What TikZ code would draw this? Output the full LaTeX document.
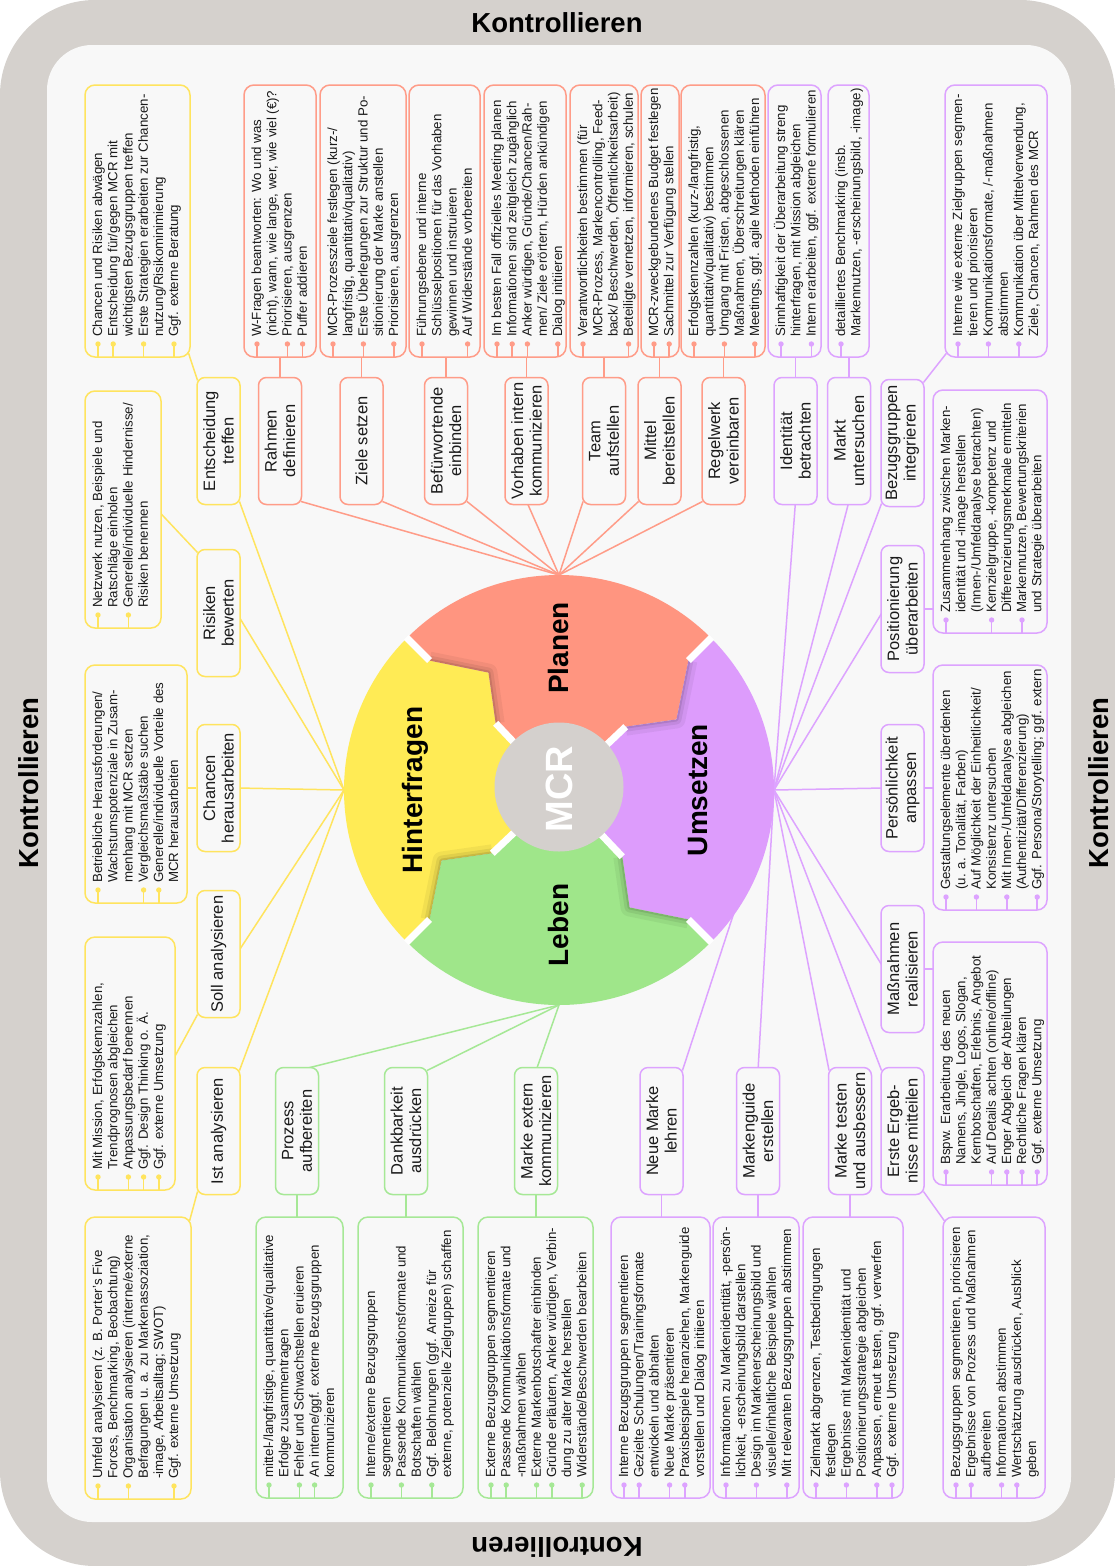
\documentclass[tikz,border=0pt]{standalone}
\usepackage{fontspec}
\setmainfont{Liberation Sans}
\usetikzlibrary{calc}
\pgfdeclarelayer{back}
\pgfdeclarelayer{lines}
\pgfsetlayers{back,lines,main}
\definecolor{frameC}{HTML}{D5D1CD}
\definecolor{panelC}{HTML}{F8F8F8}
\definecolor{yC}{HTML}{FFE45E}
\definecolor{yF}{HTML}{FFEB55}
\definecolor{rC}{HTML}{FF9C88}
\definecolor{rF}{HTML}{FF9580}
\definecolor{pC}{HTML}{DDA3FF}
\definecolor{pF}{HTML}{DD9CFC}
\definecolor{gC}{HTML}{A6E896}
\definecolor{gF}{HTML}{9FE68A}
\definecolor{mcrC}{HTML}{D4D0CD}
\definecolor{txt}{HTML}{1A1A1A}
\tikzset{
  sub/.style={rotate=90, draw, rounded corners=8, minimum width=127, minimum height=43, align=center,
    font=\fontsize{16.5}{18.5}\selectfont, fill=panelC, line width=1.5, inner sep=1, text=txt},
  dframe/.style={draw, rounded corners=10, line width=1.5, inner sep=0, outer sep=0, fill=panelC},
  dtext/.style={rotate=90, inner sep=0, align=left, font=\fontsize{13.3}{15.2}\selectfont, text=txt},
  conn/.style={line width=1.5},
  seglabel/.style={rotate=90, font=\fontsize{28}{30}\selectfont\bfseries, text=black},
  kontr/.style={font=\fontsize{27.5}{30}\selectfont\bfseries, text=black},
  shd/.style={black, line join=round},
}
\newcommand{\dbox}[8]{%
  \node[dframe, draw=#2, minimum width={#5-#3}, minimum height={#6-#4}] (#1) at ({(#3+#5)/2},{(#4+#6)/2}) {};
  \foreach \k in {#7}{%
    \draw[#2, line width=1.5] ({#3+13+(\k-1)*15.2},{#6-13}) -- ({#3+13+(\k-1)*15.2},{#6});
    \fill[#2] ({#3+13+(\k-1)*15.2},{#6-13}) circle[radius=2.7];
  }
  \node[dtext, anchor=north west] (#1t) at ({#3+4.5},{#6-20}) {\rule{0pt}{12.5pt}#8};
}
\newcommand{\hubline}[4]{\draw[conn,#1] (#2) -- ($(#3.#4)!4pt!(#3.center)$);}
\newcommand{\conline}[5]{\draw[conn,#1] ($(#2.#3)!4pt!(#2.center)$) -- ($(#4.#5)!4pt!(#4.center)$);}
\newcommand{\segpath}[2]{(#1:215) arc[start angle=#1, end angle=#2, radius=215] -- (#2:183) -- ({#2-14}:137) -- ({#2-1.5}:92) -- ({#2-1.5}:58) arc[start angle={#2-1.5}, end angle={#1-1.5}, radius=58] -- ({#1-1.5}:92) -- ({#1-14}:137) -- (#1:183) -- cycle}
\begin{document}
\begin{tikzpicture}[x=1pt, y=-1pt]
\useasboundingbox (0,0) rectangle (1115,1566);
\begin{pgfonlayer}{back}
\fill[white] (0,0) rectangle (1115,1566);
\fill[frameC, rounded corners=95] (0,0) rectangle (1115,1566);
\fill[panelC, rounded corners=45] (47,45) rectangle (1071,1522);
\end{pgfonlayer}
\node[kontr] (k1) at (557,23) {Kontrollieren};
\node[kontr, rotate=90] (k2) at (29,783) {Kontrollieren};
\node[kontr, rotate=90] (k3) at (1099,783) {Kontrollieren};
\node[kontr, rotate=180] (k4) at (557,1547) {Kontrollieren};
% ring
\begin{scope}[shift={(559,790)}, yscale=-1]
\fill[yF] \segpath{225}{135};
\fill[rF] \segpath{135}{45};
\fill[pF] \segpath{45}{-45};
\fill[gF] \segpath{-45}{-135};
\foreach \t in {135,45,-45,-135}{
  \begin{scope}
    \clip \segpath{\t}{\t-90};
    \draw[shd, opacity=0.05, line width=18] (\t:183) -- ({\t-14}:137) -- ({\t-1.5}:92);
    \draw[shd, opacity=0.07, line width=10] (\t:183) -- ({\t-14}:137) -- ({\t-1.5}:92);
    \draw[shd, opacity=0.10, line width=4] (\t:183) -- ({\t-14}:137) -- ({\t-1.5}:92);
  \end{scope}
  \draw[white, line width=7] (\t:216) -- (\t:183);
  \draw[white, line width=7] ({\t-1.5}:92) -- ({\t-1.5}:55);
}
\fill[mcrC] (0,3) circle[radius=64.5];
\end{scope}
\coordinate (hubY) at (344,790);
\coordinate (hubR) at (559,575);
\coordinate (hubP) at (774,790);
\coordinate (hubG) at (559,1005);
\node[seglabel] (lh) at (415,790) {Hinterfragen};
\node[seglabel] (lp) at (558,648) {Planen};
\node[seglabel] (lu) at (698,790) {Umsetzen};
\node[seglabel] (ll) at (558,925) {Leben};
\node[rotate=90, font=\fontsize{38}{40}\selectfont\bfseries, text=white] (mcr) at (559,789) {MCR};
% sub nodes
\node[sub, draw=yC] (ent) at (218.5,441) {Entscheidung\\treffen};
\node[sub, draw=yC] (ris) at (218.5,613) {Risiken\\bewerten};
\node[sub, draw=yC] (cha) at (218.5,788) {Chancen\\herausarbeiten};
\node[sub, draw=yC] (sol) at (218.5,954) {Soll analysieren};
\node[sub, draw=yC] (ist) at (218.5,1131) {Ist analysieren};
\node[sub, draw=rC] (rah) at (280,441) {Rahmen\\definieren};
\node[sub, draw=rC] (zie) at (361.5,441) {Ziele setzen};
\node[sub, draw=rC] (bef) at (446,441) {Befürwortende\\einbinden};
\node[sub, draw=rC] (vor) at (526.5,441) {Vorhaben intern\\kommunizieren};
\node[sub, draw=rC] (tea) at (604,441) {Team\\aufstellen};
\node[sub, draw=rC] (mit) at (659.5,441) {Mittel\\bereitstellen};
\node[sub, draw=rC] (reg) at (723.5,441) {Regelwerk\\vereinbaren};
\node[sub, draw=pC] (ide) at (795.5,441) {Identität\\betrachten};
\node[sub, draw=pC] (mar) at (849,441) {Markt\\untersuchen};
\node[sub, draw=pC] (bez) at (902.5,443) {Bezugsgruppen\\integrieren};
\node[sub, draw=pC] (pos) at (902.5,609) {Positionierung\\überarbeiten};
\node[sub, draw=pC] (per) at (902.5,788) {Persönlichkeit\\anpassen};
\node[sub, draw=pC] (mas) at (902.5,969) {Maßnahmen\\realisieren};
\node[sub, draw=pC] (ers) at (902.5,1131) {Erste Ergeb-\\nisse mitteilen};
\node[sub, draw=pC] (tes) at (850,1131) {Marke testen\\und ausbessern};
\node[sub, draw=pC] (mgu) at (758,1131) {Markenguide\\erstellen};
\node[sub, draw=pC] (neu) at (661.5,1131) {Neue Marke\\lehren};
\node[sub, draw=gC] (pro) at (297,1131) {Prozess\\aufbereiten};
\node[sub, draw=gC] (dan) at (406,1131) {Dankbarkeit\\ausdrücken};
\node[sub, draw=gC] (mex) at (536,1131) {Marke extern\\kommunizieren};
% detail boxes
\dbox{dY1}{yC}{85}{85}{190}{357}{1,2,4,6}{Chancen und Risiken abwägen\\Entscheidung für/gegen MCR mit\\wichtigsten Bezugsgruppen treffen\\Erste Strategien erarbeiten zur Chancen-\\nutzung/Risikominimierung\\Ggf. externe Beratung}
\dbox{dY2}{yC}{85}{391}{161}{628}{1,3}{Netzwerk nutzen, Beispiele und\\Ratschläge einholen\\Generelle/individuelle Hindernisse/\\Risiken benennen}
\dbox{dY3}{yC}{85}{665}{187}{903}{1,4,5}{Betriebliche Herausforderungen/\\Wachstumspotenziale in Zusam-\\menhang mit MCR setzen\\Vergleichsmaßstäbe suchen\\Generelle/individuelle Vorteile des\\MCR herausarbeiten}
\dbox{dY4}{yC}{85}{937}{175}{1190}{1,3,4,5}{Mit Mission, Erfolgskennzahlen,\\Trendprognosen abgleichen\\Anpassungsbedarf benennen\\Ggf. Design Thinking o. Ä.\\Ggf. externe Umsetzung}
\dbox{dY5}{yC}{85}{1217}{191}{1499}{1,3,6}{Umfeld analysieren (z. B. Porter’s Five\\Forces, Benchmarking, Beobachtung)\\Organisation analysieren (interne/externe\\Befragungen u. a. zu Markenassoziation,\\-image, Arbeitsalltag; SWOT)\\Ggf. externe Umsetzung}
\dbox{dR1}{rC}{244}{85}{316}{357}{1,3,4}{W-Fragen beantworten: Wo und was\\(nicht), wann, wie lange, wer, wie viel (€)?\\Priorisieren, ausgrenzen\\Puffer addieren}
\dbox{dR2}{rC}{320}{85}{406}{357}{1,3,5}{MCR-Prozessziele festlegen (kurz-/\\langfristig, quantitativ/qualitativ)\\Erste Überlegungen zur Struktur und Po-\\sitionierung der Marke anstellen\\Priorisieren, ausgrenzen}
\dbox{dR3}{rC}{409}{85}{480}{357}{1,4}{Führungsebene und interne\\Schlüsselpositionen für das Vorhaben\\gewinnen und instruieren\\Auf Widerstände vorbereiten}
\dbox{dR4}{rC}{484}{85}{566}{357}{1,2,3,5}{Im besten Fall offizielles Meeting planen\\Informationen sind zeitgleich zugänglich\\Anker würdigen, Gründe/Chancen/Rah-\\men/ Ziele erörtern, Hürden ankündigen\\Dialog initiieren}
\dbox{dR5}{rC}{570}{85}{638}{357}{1,4}{Verantwortlichkeiten bestimmen (für\\MCR-Prozess, Markencontrolling, Feed-\\back/ Beschwerden, Öffentlichkeitsarbeit)\\Beteiligte vernetzen, informieren, schulen}
\dbox{dR6}{rC}{641}{85}{679}{357}{1,2}{MCR-zweckgebundenes Budget festlegen\\Sachmittel zur Verfügung stellen}
\dbox{dR7}{rC}{681}{85}{765}{357}{1,3,5}{Erfolgskennzahlen (kurz-/langfristig,\\quantitativ/qualitativ) bestimmen\\Umgang mit Fristen, abgeschlossenen\\Maßnahmen, Überschreitungen klären\\Meetings, ggf. agile Methoden einführen}
\dbox{dP1}{pC}{768}{85}{821}{357}{1,3}{Sinnhaftigkeit der Überarbeitung streng\\hinterfragen, mit Mission abgleichen\\Intern erarbeiten, ggf. externe formulieren}
\dbox{dP2}{pC}{828}{85}{869}{357}{1}{detailliertes Benchmarking (insb.\\Markennutzen, -erscheinungsbild, -image)}
\dbox{dP3}{pC}{945}{85}{1047}{357}{1,3,5}{Interne wie externe Zielgruppen segmen-\\tieren und priorisieren\\Kommunikationsformate, /-maßnahmen\\abstimmen\\Kommunikation über Mittelverwendung,\\Ziele, Chancen, Rahmen des MCR}
\dbox{dP4}{pC}{933}{390}{1047}{633}{1,4,6}{Zusammenhang zwischen Marken-\\identität und -image herstellen\\(Innen-/Umfeldanalyse betrachten)\\Kernzielgruppe, -kompetenz und\\Differenzierungsmerkmale ermitteln\\Markennutzen, Bewertungskriterien\\und Strategie überarbeiten}
\dbox{dP5}{pC}{933}{665}{1047}{910}{1,3,5,7}{Gestaltungselemente überdenken\\(u. a. Tonalität, Farben)\\Auf Möglichkeit der Einheitlichkeit/\\Konsistenz untersuchen\\Mit Innen-/Umfeldanalyse abgleichen\\(Authentizität/Differenzierung)\\Ggf. Persona/Storytelling; ggf. extern}
\dbox{dP6}{pC}{933}{942}{1047}{1185}{1,4,5,6,7}{Bspw. Erarbeitung des neuen\\Namens, Jingle, Logos, Slogan,\\Kernbotschaften, Erlebnis, Angebot\\Auf Details achten (online/offline)\\Enger Abgleich der Abteilungen\\Rechtliche Fragen klären\\Ggf. externe Umsetzung}
\dbox{dP7}{pC}{943}{1217}{1045}{1498}{1,2,4,5}{Bezugsgruppen segmentieren, priorisieren\\Ergebnisse von Prozess und Maßnahmen\\aufbereiten\\Informationen abstimmen\\Wertschätzung ausdrücken, Ausblick\\geben}
\dbox{dP8}{pC}{611}{1217}{710}{1498}{1,2,4,5}{Interne Bezugsgruppen segmentieren\\Gezielte Schulungen/Trainingsformate\\entwickeln und abhalten\\Neue Marke präsentieren\\Praxisbeispiele heranziehen, Markenguide\\vorstellen und Dialog initiieren}
\dbox{dP9}{pC}{713}{1217}{799}{1498}{1,3,5}{Informationen zu Markenidentität, -persön-\\lichkeit, -erscheinungsbild darstellen\\Design im Markenerscheinungsbild und\\visuelle/inhaltliche Beispiele wählen\\Mit relevanten Bezugsgruppen abstimmen}
\dbox{dP10}{pC}{803}{1217}{903}{1498}{1,3,5,6}{Zielmarkt abgrenzen, Testbedingungen\\festlegen\\Ergebnisse mit Markenidentität und\\Positionierungsstrategie abgleichen\\Anpassen, erneut testen, ggf. verwerfen\\Ggf. externe Umsetzung}
\dbox{dG1}{gC}{256}{1217}{343}{1498}{1,3,4}{mittel-/langfristige, quantitative/qualitative\\Erfolge zusammentragen\\Fehler und Schwachstellen eruieren\\An interne/ggf. externe Bezugsgruppen\\kommunizieren}
\dbox{dG2}{gC}{358}{1217}{463}{1498}{1,3,5}{Interne/externe Bezugsgruppen\\segmentieren\\Passende Kommunikationsformate und\\Botschaften wählen\\Ggf. Belohnungen (ggf. Anreize für\\externe, potenzielle Zielgruppen) schaffen}
\dbox{dG3}{gC}{478}{1217}{593}{1498}{1,2,4,5,7}{Externe Bezugsgruppen segmentieren\\Passende Kommunikationsformate und\\-maßnahmen wählen\\Externe Markenbotschafter einbinden\\Gründe erläutern, Anker würdigen, Verbin-\\dung zu alter Marke herstellen\\Widerstände/Beschwerden bearbeiten}
% connectors
\begin{pgfonlayer}{lines}
\hubline{yC}{hubY}{ent}{south west}
\hubline{yC}{hubY}{ris}{south}
\hubline{yC}{hubY}{cha}{south}
\hubline{yC}{hubY}{sol}{south}
\hubline{yC}{hubY}{ist}{south east}
\hubline{rC}{hubR}{rah}{south west}
\hubline{rC}{hubR}{zie}{south west}
\hubline{rC}{hubR}{bef}{south west}
\hubline{rC}{hubR}{vor}{west}
\hubline{rC}{hubR}{tea}{north west}
\hubline{rC}{hubR}{mit}{north west}
\hubline{rC}{hubR}{reg}{north west}
\hubline{pC}{hubP}{ide}{west}
\hubline{pC}{hubP}{mar}{west}
\hubline{pC}{hubP}{bez}{north west}
\hubline{pC}{hubP}{pos}{north}
\hubline{pC}{hubP}{per}{north}
\hubline{pC}{hubP}{mas}{north}
\hubline{pC}{hubP}{ers}{north east}
\hubline{pC}{hubP}{tes}{north east}
\hubline{pC}{hubP}{mgu}{east}
\hubline{pC}{hubP}{neu}{south east}
\hubline{gC}{hubG}{pro}{east}
\hubline{gC}{hubG}{dan}{south east}
\hubline{gC}{hubG}{mex}{east}
\conline{yC}{dY1}{south east}{ent}{north east}
\conline{yC}{dY2}{east}{ris}{north east}
\draw[conn,yC] (cha.north) -- (cha.north -| dY3.east);
\conline{yC}{sol}{north west}{dY4}{east}
\conline{yC}{dY5}{north east}{ist}{north west}
\draw[conn,rC] (rah.east) -- (rah.east |- dR1.south);
\draw[conn,rC] (zie.east) -- (zie.east |- dR2.south);
\draw[conn,rC] (bef.east) -- (bef.east |- dR3.south);
\draw[conn,rC] (vor.east) -- (vor.east |- dR4.south);
\draw[conn,rC] (tea.east) -- (tea.east |- dR5.south);
\draw[conn,rC] (mit.east) -- (mit.east |- dR6.south);
\draw[conn,rC] (reg.east) -- (reg.east |- dR7.south);
\draw[conn,pC] (ide.east) -- (ide.east |- dP1.south);
\draw[conn,pC] (mar.east) -- (mar.east |- dP2.south);
\conline{pC}{bez}{south east}{dP3}{south west}
\draw[conn,pC] (pos.south) -- (pos.south -| dP4.west);
\draw[conn,pC] (per.south) -- (per.south -| dP5.west);
\draw[conn,pC] (mas.south) -- (mas.south -| dP6.west);
\conline{pC}{ers}{south west}{dP7}{north west}
\draw[conn,pC] (neu.west) -- (neu.west |- dP8.north);
\draw[conn,pC] (mgu.west) -- (mgu.west |- dP9.north);
\draw[conn,pC] (tes.west) -- (tes.west |- dP10.north);
\draw[conn,gC] (pro.west) -- (pro.west |- dG1.north);
\draw[conn,gC] (dan.west) -- (dan.west |- dG2.north);
\draw[conn,gC] (mex.west) -- (mex.west |- dG3.north);
\end{pgfonlayer}
\end{tikzpicture}
\end{document}
